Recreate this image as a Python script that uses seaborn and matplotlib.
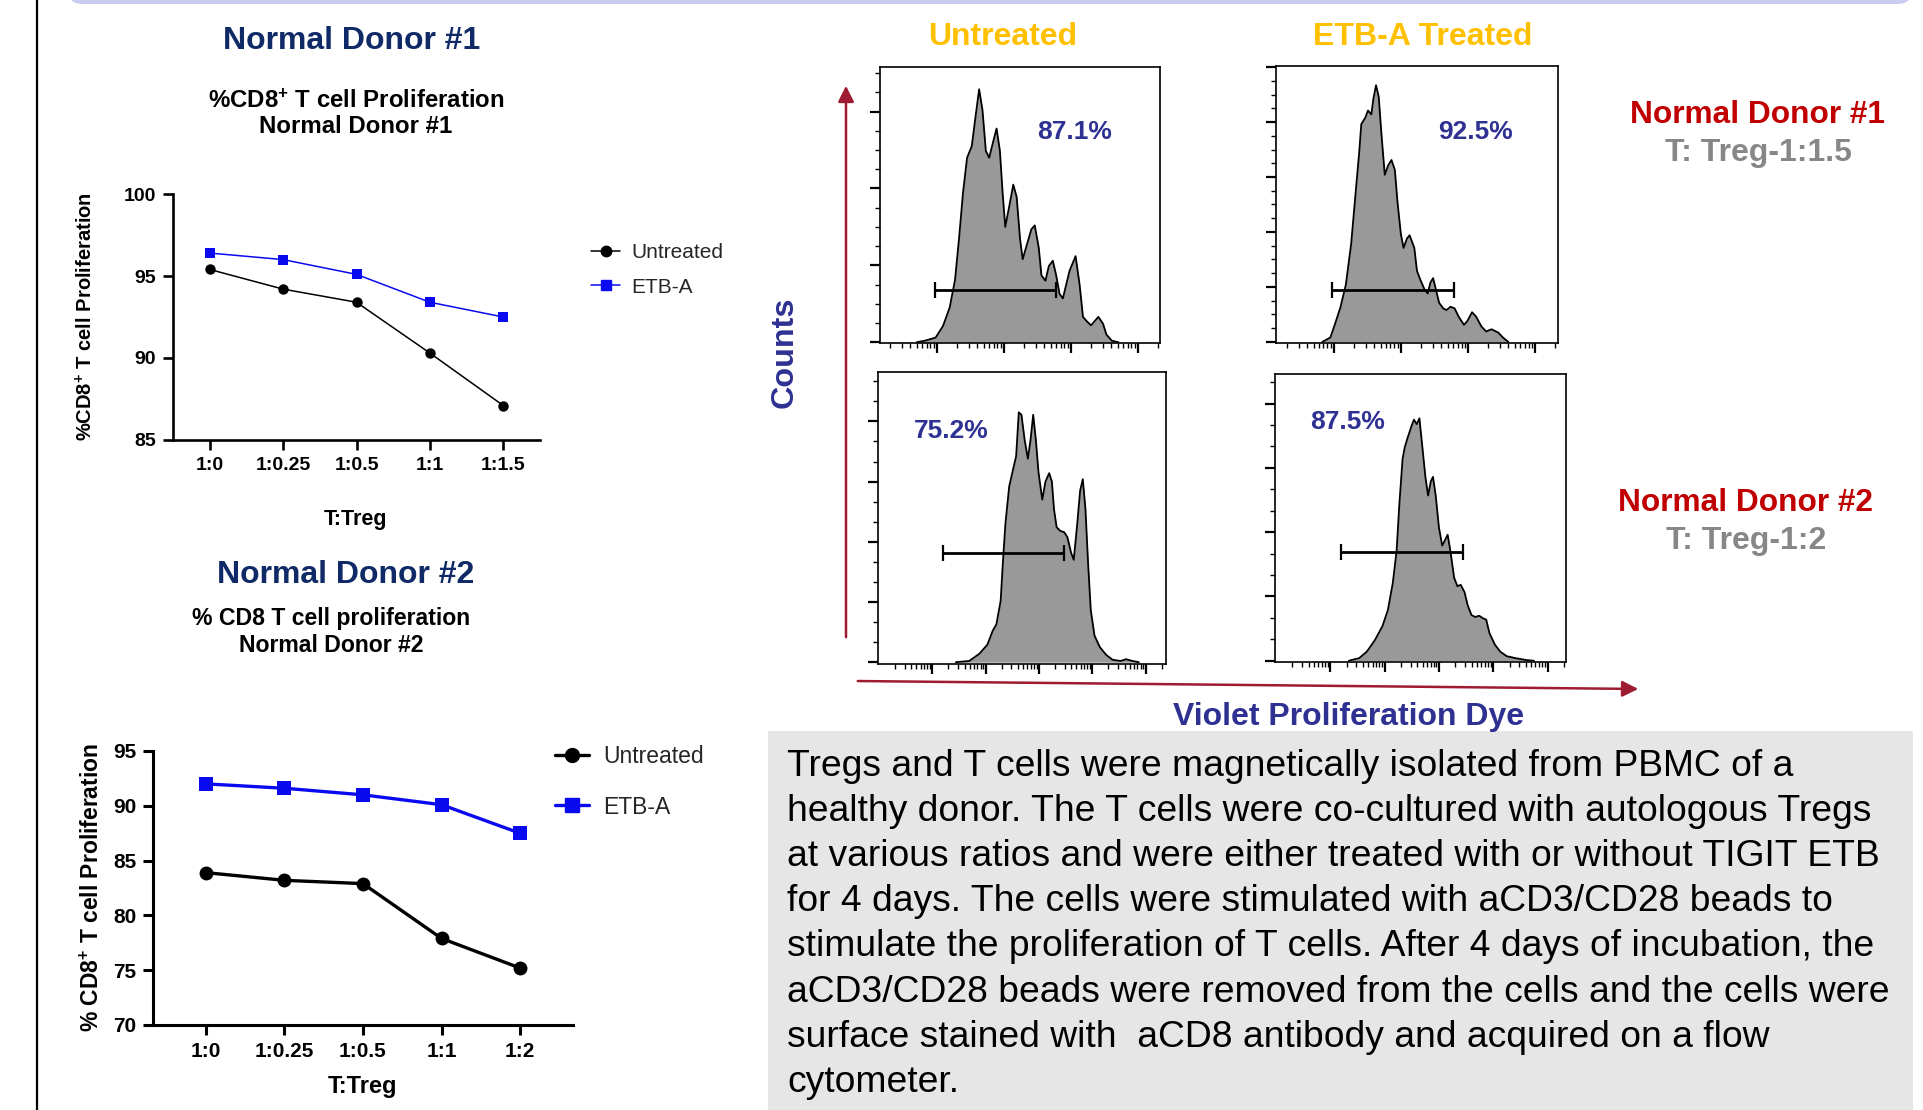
import numpy as np
import pandas as pd
import matplotlib
matplotlib.use('Agg')
import matplotlib.pyplot as plt
import seaborn as sns
from matplotlib import font_manager
from matplotlib.lines import Line2D
from matplotlib.patches import Rectangle, FancyBboxPatch

sns.set_theme(style='ticks')
plt.rcParams['font.family'] = ['Liberation Sans', 'DejaVu Sans']
plt.rcParams['mathtext.fontset'] = 'custom'
plt.rcParams['mathtext.rm'] = 'Liberation Sans'
plt.rcParams['mathtext.bf'] = 'Liberation Sans:bold'
plt.rcParams['mathtext.default'] = 'bf'

installed = {f.name for f in font_manager.fontManager.ttflist}
NARROW = 'Liberation Sans Narrow' if 'Liberation Sans Narrow' in installed else 'Liberation Sans'

# ---- line chart data ----
ratios1 = ['1:0', '1:0.25', '1:0.5', '1:1', '1:1.5']
untreated1 = [95.4, 94.2, 93.4, 90.3, 87.1]
etba1 = [96.4, 96.0, 95.1, 93.4, 92.5]

ratios2 = ['1:0', '1:0.25', '1:0.5', '1:1', '1:2']
untreated2 = [83.9, 83.2, 82.9, 77.9, 75.2]
etba2 = [92.0, 91.6, 91.0, 90.1, 87.5]

# ---- flow histograms (x = log decade, y = counts) ----
h1_x = [0.70, 0.82, 0.98, 1.09, 1.19, 1.27, 1.33, 1.39, 1.45, 1.52, 1.58, 1.63, 1.68, 1.73, 1.78,
        1.84, 1.89, 1.94, 1.98, 2.02, 2.08, 2.14, 2.19, 2.24, 2.28, 2.34, 2.41, 2.46, 2.52, 2.56,
        2.62, 2.67, 2.73, 2.78, 2.83, 2.88, 2.93, 2.98, 3.07, 3.13, 3.18, 3.24, 3.30, 3.36, 3.41,
        3.48, 3.53, 3.61, 3.71]
h1_y = [0, 2, 6, 21, 45, 81, 135, 195, 240, 255, 296, 329, 302, 249, 240,
        261, 278, 249, 195, 150, 177, 205, 189, 135, 108, 126, 147, 152, 123, 87,
        80, 99, 106, 87, 63, 57, 75, 93, 112, 75, 33, 27, 22, 28, 33,
        24, 10, 2, 0]
gate1 = [0.97, 2.78, 68]

h2_x = [0.83, 0.95, 1.02, 1.10, 1.18, 1.26, 1.32, 1.38, 1.41, 1.47, 1.51, 1.56, 1.59, 1.63, 1.67,
        1.71, 1.76, 1.81, 1.86, 1.91, 1.95, 2.00, 2.04, 2.09, 2.13, 2.20, 2.24, 2.29, 2.35, 2.40,
        2.44, 2.48, 2.52, 2.57, 2.63, 2.68, 2.74, 2.80, 2.86, 2.94, 2.99, 3.06, 3.12, 3.20, 3.27,
        3.35, 3.45, 3.52, 3.60]
h2_y = [0, 8, 33, 63, 104, 179, 263, 346, 396, 408, 421, 414, 442, 467, 446,
        379, 304, 321, 331, 313, 254, 196, 171, 188, 194, 171, 129, 113, 96, 88,
        108, 116, 96, 71, 61, 58, 64, 61, 46, 31, 38, 54, 46, 28, 19,
        23, 17, 8, 0]
gate2 = [0.97, 2.79, 95]

h3_x = [1.44, 1.69, 1.88, 2.03, 2.13, 2.20, 2.28, 2.32, 2.37, 2.44, 2.52, 2.57, 2.62, 2.67, 2.73,
        2.79, 2.84, 2.89, 2.94, 2.99, 3.06, 3.12, 3.19, 3.24, 3.28, 3.33, 3.40, 3.47, 3.53, 3.60,
        3.65, 3.71, 3.77, 3.82, 3.87, 3.92, 3.97, 4.04, 4.14, 4.26, 4.38, 4.53, 4.63, 4.75, 4.87]
h3_y = [0, 2, 14, 29, 52, 63, 102, 163, 231, 292, 323, 342, 415, 411, 369,
        338, 369, 411, 369, 315, 270, 300, 314, 300, 254, 224, 218, 216, 208, 182,
        170, 224, 285, 304, 254, 163, 86, 44, 25, 12, 4, 2, 5, 2, 0]
gate3 = [1.20, 3.47, 181]

h4_x = [1.34, 1.53, 1.67, 1.82, 1.96, 2.06, 2.15, 2.22, 2.27, 2.33, 2.37, 2.42, 2.49, 2.54, 2.59,
        2.64, 2.69, 2.75, 2.80, 2.85, 2.89, 2.94, 3.00, 3.06, 3.12, 3.16, 3.21, 3.28, 3.34, 3.40,
        3.47, 3.53, 3.60, 3.67, 3.74, 3.81, 3.87, 3.93, 4.03, 4.13, 4.25, 4.41, 4.61, 4.75]
h4_y = [0, 4, 14, 32, 54, 79, 121, 171, 243, 314, 332, 346, 364, 375, 368,
        377, 336, 286, 257, 279, 286, 257, 207, 179, 189, 196, 171, 129, 116, 118,
        107, 86, 71, 68, 70, 66, 64, 43, 25, 14, 7, 4, 1, 0]
gate4 = [1.19, 3.45, 169]

W, H = 1923, 1110
NAVY = '#0f2a66'
INDIGO = '#2e3192'
GOLD = '#ffc000'
RED = '#c00000'
GREY = '#878787'
ARROW = '#9e1b32'
BLUE = '#0a0af0'

fig = plt.figure(figsize=(W / 100, H / 100), dpi=100)


def rect(l, t, r, b):
    return [l / W, 1 - b / H, (r - l) / W, (b - t) / H]


def ftext(x, y, s, **kw):
    kw.setdefault('ha', 'center')
    kw.setdefault('va', 'center')
    fig.text(x / W, 1 - y / H, s, **kw)


# background layer: frame line, top band, grey note box, arrows
bg = fig.add_axes([0, 0, 1, 1])
bg.set_xlim(0, W)
bg.set_ylim(H, 0)
bg.axis('off')
bg.add_patch(FancyBboxPatch((67, -40), 1846, 44, boxstyle='round,pad=0,rounding_size=16',
                            fc='#c9cbf0', ec='none'))
bg.plot([37, 37], [0, H], color='black', lw=1.6)
bg.add_patch(Rectangle((768, 731), 1145, 380, fc='#e6e6e6', ec='none'))
bg.annotate('', xy=(846, 83), xytext=(846, 640),
            arrowprops=dict(arrowstyle='-|>', color=ARROW, lw=1.8, mutation_scale=24))
bg.annotate('', xy=(1641, 689), xytext=(855, 681),
            arrowprops=dict(arrowstyle='-|>', color=ARROW, lw=1.8, mutation_scale=24))


def line_chart(box, cats, unt, etb, ylim, yticks, xpad, lw, ms, fs_tick, spine_w):
    ax = fig.add_axes(rect(*box))
    ax.patch.set_alpha(0)
    df = pd.DataFrame({'T:Treg': cats * 2, 'pct': unt + etb,
                       'group': ['Untreated'] * len(cats) + ['ETB-A'] * len(cats)})
    sns.lineplot(data=df, x='T:Treg', y='pct', hue='group', style='group',
                 markers={'Untreated': 'o', 'ETB-A': 's'}, dashes=False,
                 palette={'Untreated': 'black', 'ETB-A': BLUE},
                 markersize=ms, linewidth=lw, markeredgewidth=0, legend=False, sort=False, ax=ax)
    ax.set_xlim(-xpad, len(cats) - 1 + xpad)
    ax.set_ylim(*ylim)
    ax.set_yticks(yticks)
    ax.set_xlabel('')
    ax.set_ylabel('')
    sns.despine(ax=ax)
    for s in ['left', 'bottom']:
        ax.spines[s].set_color('black')
        ax.spines[s].set_linewidth(spine_w)
    ax.tick_params(direction='out', length=7, width=spine_w, labelsize=fs_tick, colors='black', pad=5)
    for lab in ax.get_xticklabels() + ax.get_yticklabels():
        lab.set_fontweight('bold')
    return ax


ax1 = line_chart((173, 194, 540, 440), ratios1, untreated1, etba1, (85, 100), [85, 90, 95, 100],
                 0.5, 1.1, 7.5, 14, 1.9)
h = [Line2D([], [], color='black', marker='o', ms=7.5, lw=1.1),
     Line2D([], [], color=BLUE, marker='s', ms=7.5, lw=1.1)]
ax1.legend(h, ['Untreated', 'ETB-A'], loc='upper left', bbox_to_anchor=(591 / W, 1 - 243 / H),
           bbox_transform=fig.transFigure, frameon=False, fontsize=15, handlelength=1.4,
           handletextpad=0.55, labelspacing=0.75, borderpad=0, borderaxespad=0)

ax2 = line_chart((153, 751, 573, 1025), ratios2, untreated2, etba2, (70, 95), [70, 75, 80, 85, 90, 95],
                 0.675, 2.4, 10, 15, 2.2)
h = [Line2D([], [], color='black', marker='o', ms=10, lw=2.4),
     Line2D([], [], color=BLUE, marker='s', ms=10, lw=2.4)]
ax2.legend(h, ['Untreated', 'ETB-A'], loc='upper left', bbox_to_anchor=(555 / W, 1 - 745 / H),
           bbox_transform=fig.transFigure, frameon=False, fontsize=16.5, handlelength=1.5,
           handletextpad=0.6, labelspacing=1.2, borderpad=0, borderaxespad=0)

# chart texts
ftext(352, 41, 'Normal Donor #1', color=NAVY, fontsize=23, fontweight='bold')
ftext(356, 101, '%CD8$^{+}$ T cell Proliferation', fontsize=17.3, fontweight='bold', color='black')
ftext(356, 127, 'Normal Donor #1', fontsize=17.3, fontweight='bold', color='black')
ftext(86, 317, '%CD8$^{+}$ T cell Proliferation', fontsize=14.5, fontweight='bold', rotation=90, color='black')
ftext(356, 519, 'T:Treg', fontsize=15.5, fontweight='bold', color='black')

ftext(346, 575, 'Normal Donor #2', color=NAVY, fontsize=23, fontweight='bold')
ftext(331, 618, '% CD8 T cell proliferation', fontsize=16.6, fontweight='bold', color='black')
ftext(331, 645, 'Normal Donor #2', fontsize=16.6, fontweight='bold', color='black')
ftext(92, 887, '% CD8$^{+}$ T cell Proliferation', fontsize=16.5, fontweight='bold', rotation=90, color='black')
ftext(362, 1087, 'T:Treg', fontsize=17, fontweight='bold', color='black')


def hist_panel(box, xs, ys, xlim, ylim, ymax_tick, minor_div, gate, pct, pct_xy):
    ax = fig.add_axes(rect(*box))
    ax.set_facecolor('white')
    ax.fill_between(xs, ys, color='#999999', lw=0)
    sns.lineplot(x=xs, y=ys, sort=False, color='black', lw=1.3, ax=ax)
    lo, hi, gy = gate
    ax.errorbar((lo + hi) / 2, gy, xerr=(hi - lo) / 2, color='black', elinewidth=2,
                capsize=6, capthick=1.6)
    ax.text(pct_xy[0], pct_xy[1], pct, color=INDIGO, fontsize=19, fontweight='bold',
            ha='center', va='center')
    ax.set_xlim(*xlim)
    ax.set_ylim(*ylim)
    for s in ax.spines.values():
        s.set_visible(True)
        s.set_color('black')
        s.set_linewidth(1.2)
    ax.set_xticks([k for k in range(1, 6) if k < xlim[1]])
    ax.set_xticks([k + np.log10(m) for k in range(0, 6) for m in range(2, 10)
                   if xlim[0] < k + np.log10(m) < xlim[1]], minor=True)
    ax.set_yticks(np.arange(0, ymax_tick + 1, 100))
    ax.set_yticks([v for v in np.arange(0, ylim[1], 100 / minor_div)], minor=True)
    ax.tick_params(which='major', direction='out', length=7, width=1.6, colors='black',
                   labelbottom=False, labelleft=False)
    ax.tick_params(which='minor', direction='out', length=3.5, width=1, colors='black')
    ax.set_xlabel('')
    ax.set_ylabel('')
    return ax


hist_panel((880, 67, 1160, 343), h1_x, h1_y, (0.15, 4.33), (-1, 358), 300, 4, gate1, '87.1%', (3.06, 274))
hist_panel((1276, 66, 1558, 343), h2_x, h2_y, (0.14, 4.34), (-2, 502), 500, 4, gate2, '92.5%', (3.11, 382))
hist_panel((878, 372, 1166, 664), h3_x, h3_y, (-0.02, 5.38), (-3, 482), 400, 3, gate3, '75.2%', (1.36, 384))
hist_panel((1275, 374, 1566, 662), h4_x, h4_y, (-0.02, 5.34), (-2, 446), 400, 3, gate4, '87.5%', (1.32, 371))

# flow panel labels
ftext(1003, 37, 'Untreated', color=GOLD, fontsize=23, fontweight='bold')
ftext(1423, 37, 'ETB-A Treated', color=GOLD, fontsize=23, fontweight='bold')
ftext(785, 352, 'Counts', color=INDIGO, fontsize=23.3, fontweight='bold', rotation=90)
ftext(1349, 717, 'Violet Proliferation Dye', color=INDIGO, fontsize=23, fontweight='bold')
ftext(1758, 115, 'Normal Donor #1', color=RED, fontsize=22.8, fontweight='bold')
ftext(1758, 153, 'T: Treg-1:1.5', color=GREY, fontsize=23, fontweight='bold')
ftext(1746, 503, 'Normal Donor #2', color=RED, fontsize=22.8, fontweight='bold')
ftext(1746, 541, 'T: Treg-1:2', color=GREY, fontsize=23, fontweight='bold')

note = [
    'Tregs and T cells were magnetically isolated from PBMC of a',
    'healthy donor. The T cells were co-cultured with autologous Tregs',
    'at various ratios and were either treated with or without TIGIT ETB',
    'for 4 days. The cells were stimulated with aCD3/CD28 beads to',
    'stimulate the proliferation of T cells. After 4 days of incubation, the',
    'aCD3/CD28 beads were removed from the cells and the cells were',
    'surface stained with  aCD8 antibody and acquired on a flow',
    'cytometer.',
]
note_size = 28 if NARROW != 'Liberation Sans' else 26.8
for i, line in enumerate(note):
    ftext(787, 766 + i * 45.2, line, ha='left', fontsize=note_size, family=NARROW, color='black')

fig.savefig('out.png', dpi=100)
